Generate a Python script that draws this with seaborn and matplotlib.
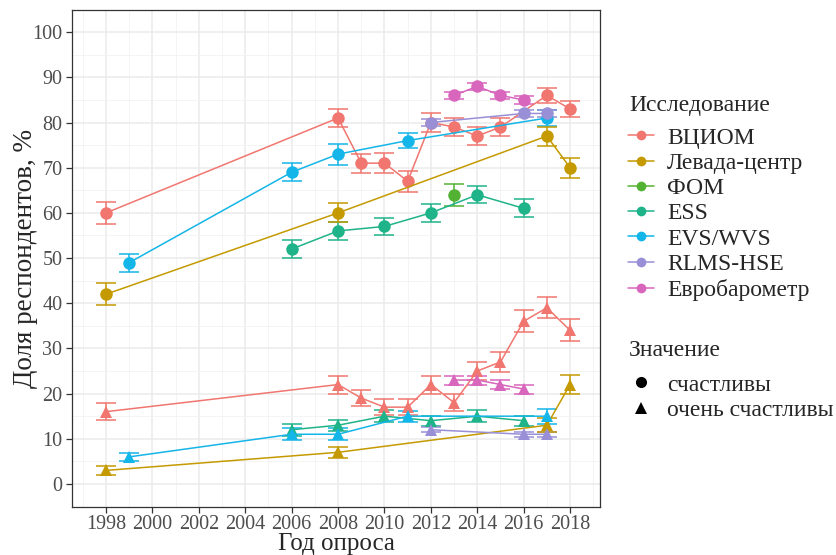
import pandas as pd
import seaborn as sns
import matplotlib.pyplot as plt
from matplotlib.lines import Line2D
from matplotlib.ticker import MultipleLocator

# Surveys and colours (ggplot-like hue palette, as seen in the picture)
surveys = ['ВЦИОМ', 'Левада-центр', 'ФОМ', 'ESS', 'EVS/WVS', 'RLMS-HSE', 'Евробарометр']
colors = ['#F0766F', '#C49A00', '#53B134', '#1FB38A', '#14B5E8', '#988FD6', '#D866BD']
kinds = ['счастливы', 'очень счастливы']

# "счастливы" (happy)
vciom_years = [1998, 2008, 2009, 2010, 2011, 2012, 2013, 2014, 2015, 2017, 2018]
vciom_happy = [60, 81, 71, 71, 67, 80, 79, 77, 79, 86, 83]
vciom_happy_err = [2.4, 1.9, 2.1, 2.2, 2.3, 2.0, 1.9, 2.0, 1.95, 1.7, 1.85]
levada_years = [1998, 2008, 2017, 2018]
levada_happy = [42, 60, 77, 70]
levada_happy_err = [2.5, 2.1, 2.1, 2.2]
fom_years = [2013]
fom_happy = [64]
fom_happy_err = [2.4]
ess_years = [2006, 2008, 2010, 2012, 2014, 2016]
ess_happy = [52, 56, 57, 60, 64, 61]
ess_happy_err = [2.0, 1.95, 1.9, 1.95, 1.9, 2.0]
evs_years = [1999, 2006, 2008, 2011, 2017]
evs_happy = [49, 69, 73, 76, 81]
evs_happy_err = [2.0, 2.0, 2.3, 1.65, 1.8]
rlms_years = [2012, 2016, 2017]
rlms_happy = [80, 82, 82]
rlms_happy_err = [0.8, 0.8, 0.8]
euro_years = [2013, 2014, 2015, 2016]
euro_happy = [86, 88, 86, 85]
euro_happy_err = [0.75, 0.8, 0.75, 0.9]

# "очень счастливы" (very happy)
vciom_very_years = [1998, 2008, 2009, 2010, 2011, 2012, 2013, 2014, 2015, 2016, 2017, 2018]
vciom_very = [16, 22, 19, 17, 17, 22, 18, 25, 27, 36, 39, 34]
vciom_very_err = [1.85, 2.0, 1.8, 1.7, 1.7, 2.0, 1.8, 1.9, 2.3, 2.4, 2.3, 2.4]
levada_very = [3, 7, 13, 22]
levada_very_err = [1.0, 1.2, 1.5, 2.1]
fom_very_years = []
fom_very = []
fom_very_err = []
ess_very = [12, 13, 15, 14, 15, 14]
ess_very_err = [1.3, 1.2, 1.3, 1.1, 1.35, 1.1]
evs_very = [6, 11, 11, 15, 15]
evs_very_err = [0.9, 1.3, 1.3, 1.2, 1.65]
rlms_very = [12, 11, 11]
rlms_very_err = [0.55, 0.5, 0.5]
euro_very = [23, 23, 22, 21]
euro_very_err = [1.0, 1.0, 1.0, 1.0]

happy_data = [
    (vciom_years, vciom_happy, vciom_happy_err),
    (levada_years, levada_happy, levada_happy_err),
    (fom_years, fom_happy, fom_happy_err),
    (ess_years, ess_happy, ess_happy_err),
    (evs_years, evs_happy, evs_happy_err),
    (rlms_years, rlms_happy, rlms_happy_err),
    (euro_years, euro_happy, euro_happy_err),
]
very_data = [
    (vciom_very_years, vciom_very, vciom_very_err),
    (levada_years, levada_very, levada_very_err),
    (fom_very_years, fom_very, fom_very_err),
    (ess_years, ess_very, ess_very_err),
    (evs_years, evs_very, evs_very_err),
    (rlms_years, rlms_very, rlms_very_err),
    (euro_years, euro_very, euro_very_err),
]

rows = []
for kind, block in zip(kinds, [happy_data, very_data]):
    for s, (yrs, vals, errs) in zip(surveys, block):
        for y, v, e in zip(yrs, vals, errs):
            rows.append({'year': y, 'value': v, 'err': e, 'survey': s, 'kind': kind})
df = pd.DataFrame(rows)

sns.set_theme(style='white')
plt.rcParams['font.family'] = ['Liberation Serif', 'DejaVu Serif']

fig, ax = plt.subplots(figsize=(8.37, 5.55), dpi=100)
fig.subplots_adjust(left=72 / 837, right=600 / 837, top=1 - 10 / 555, bottom=1 - 507 / 555)

palette = dict(zip(surveys, colors))

# error bars
for (s, k), g in df.groupby(['survey', 'kind']):
    ax.errorbar(g['year'], g['value'], yerr=g['err'], fmt='none',
                ecolor=palette[s], elinewidth=1.1, capsize=7, capthick=1.1, zorder=2)

sns.lineplot(data=df, x='year', y='value', hue='survey', style='kind',
             hue_order=surveys, style_order=kinds, palette=palette,
             markers={'счастливы': 'o', 'очень счастливы': '^'}, dashes=False,
             markersize=9, markeredgewidth=0, linewidth=1.1,
             estimator=None, legend=False, ax=ax, zorder=3)

ax.set_xlim(1996.53, 2019.29)
ax.set_ylim(-5.1, 104.9)
ax.xaxis.set_minor_locator(MultipleLocator(1))
ax.yaxis.set_major_locator(MultipleLocator(10))
ax.yaxis.set_minor_locator(MultipleLocator(5))
ax.set_xticks(range(1998, 2019, 2))
ax.grid(which='major', color='#EBEBEB', linewidth=1.1, zorder=0)
ax.grid(which='minor', color='#F2F2F2', linewidth=0.6, zorder=0)
ax.set_axisbelow(True)
for sp in ax.spines.values():
    sp.set_color('#333333')
    sp.set_linewidth(0.9)
ax.tick_params(which='major', length=4, width=0.9, color='#333333', pad=3,
               labelsize=14.5, labelcolor='#4D4D4D', bottom=True, left=True)
ax.tick_params(axis='x', which='major', pad=2)
ax.tick_params(which='minor', length=0)

ax.set_xlabel('Год опроса', fontsize=18, labelpad=-1)
ax.set_ylabel('Доля респондентов, %', fontsize=19.5)
ax.yaxis.set_label_coords(-0.064, 0.5)

# legends (titles as separate texts to match spacing)
lx = 629 / 837
fig.text(lx, 1 - 105 / 555, 'Исследование', fontsize=17, va='center', ha='left')
survey_handles = [Line2D([], [], color=c, marker='o', lw=1.1, ms=7, markeredgewidth=0)
                  for c in colors]
fig.legend(survey_handles, surveys, loc='upper left',
           bbox_to_anchor=(628 / 837, 1 - 127 / 555), frameon=False,
           fontsize=17, handlelength=1.1, handletextpad=0.55,
           labelspacing=0.16, borderpad=0, borderaxespad=0)

fig.text(lx, 1 - 350 / 555, 'Значение', fontsize=17, va='center', ha='left')
kind_handles = [Line2D([], [], color='black', marker=m, lw=0, ms=8, markeredgewidth=0)
                for m in ['o', '^']]
fig.legend(kind_handles, kinds, loc='upper left',
           bbox_to_anchor=(628 / 837, 1 - 374 / 555), frameon=False,
           fontsize=17, handlelength=1.1, handletextpad=0.55,
           labelspacing=0.16, borderpad=0, borderaxespad=0)

fig.savefig('out.png', dpi=100)
